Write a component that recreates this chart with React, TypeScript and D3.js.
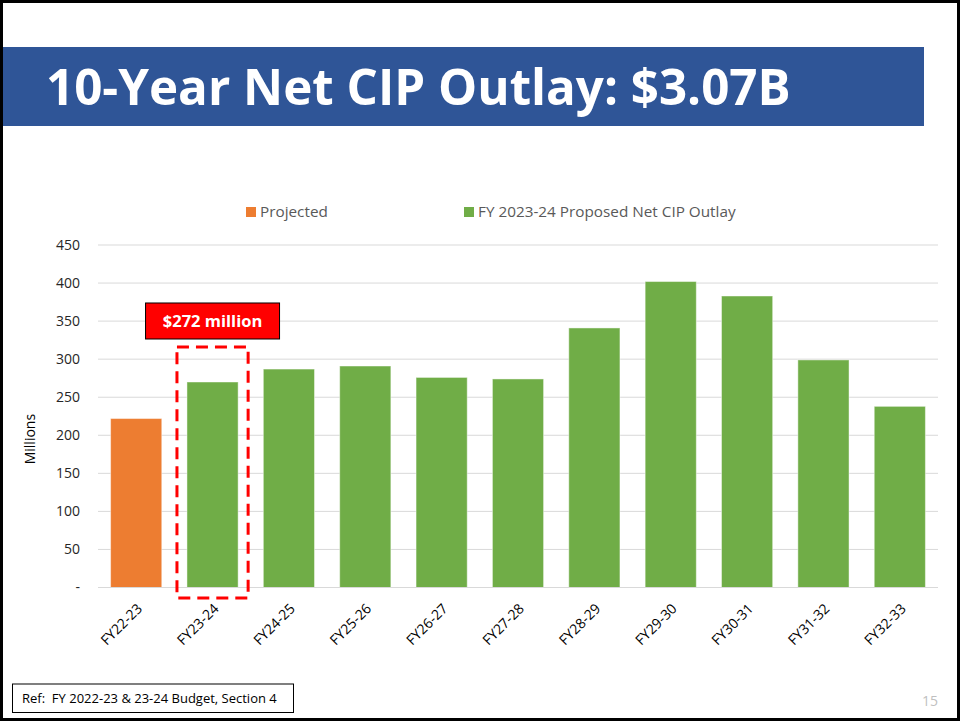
import React, {useEffect, useRef} from 'react';
import * as d3 from 'd3';

const years = ['FY22-23', 'FY23-24', 'FY24-25', 'FY25-26', 'FY26-27', 'FY27-28', 'FY28-29', 'FY29-30', 'FY30-31', 'FY31-32', 'FY32-33'];
const outlay = [222, 270, 287, 291, 276, 274, 341, 402, 383, 299, 238];
const seriesOf = ['Projected', 'Proposed', 'Proposed', 'Proposed', 'Proposed', 'Proposed', 'Proposed', 'Proposed', 'Proposed', 'Proposed', 'Proposed'];
const legendLabels = ['Projected', 'FY 2023-24 Proposed Net CIP Outlay'];
const yTicks = [0, 50, 100, 150, 200, 250, 300, 350, 400, 450];

const FONT = "'Open Sans', sans-serif";

export default function App() {
    const svgRef = useRef<SVGSVGElement>(null);

    useEffect(() => {
        const width = 960;
        const height = 723;
        const margin = {top: 245, right: 22, bottom: 135.5, left: 98};

        const svg = d3.select(svgRef.current)
            .attr('width', width)
            .attr('height', height);

        svg.selectAll('*').remove();

        svg.append('rect')
            .attr('width', width).attr('height', height)
            .attr('fill', 'white');

        // title banner
        svg.append('rect')
            .attr('x', 3).attr('y', 47)
            .attr('width', 921).attr('height', 79)
            .attr('fill', '#2F5597');
        svg.append('text')
            .attr('x', 46).attr('y', 105)
            .attr('fill', 'white')
            .attr('font-family', FONT)
            .attr('font-weight', 700)
            .attr('font-size', 49.3)
            .text('10-Year Net CIP Outlay: $3.07B');

        const colors = d3.scaleOrdinal<string, string>()
            .domain(['Projected', 'Proposed'])
            .range(['#ED7D31', '#70AD47']);

        const xScale = d3.scaleBand()
            .domain(years)
            .range([margin.left, width - margin.right])
            .paddingInner(0.33)
            .paddingOuter(0.165);

        const yScale = d3.scaleLinear()
            .domain([0, 450])
            .range([height - margin.bottom, margin.top]);

        // gridlines
        svg.append('g')
            .selectAll('line')
            .data(yTicks)
            .enter()
            .append('line')
            .attr('x1', margin.left)
            .attr('x2', width - margin.right)
            .attr('y1', d => yScale(d))
            .attr('y2', d => yScale(d))
            .attr('stroke', '#d9d9d9')
            .attr('stroke-width', 1);

        const yAxis = d3.axisLeft(yScale)
            .tickValues(yTicks)
            .tickSize(0)
            .tickPadding(18)
            .tickFormat(d => (+d === 0 ? '-' : String(d)));

        const yG = svg.append('g')
            .attr('transform', `translate(${margin.left}, 0)`)
            .call(yAxis);
        yG.select('.domain').remove();
        yG.selectAll('text')
            .attr('font-family', FONT)
            .attr('font-size', 14)
            .attr('fill', '#262626');

        svg.append('text')
            .attr('transform', `translate(35, ${yScale(195)}) rotate(-90)`)
            .attr('text-anchor', 'middle')
            .attr('font-family', FONT)
            .attr('font-size', 14)
            .attr('fill', '#000')
            .text('Millions');

        // bars
        svg.append('g')
            .selectAll('rect')
            .data(years)
            .enter()
            .append('rect')
            .attr('x', d => xScale(d)!)
            .attr('y', (d, i) => yScale(outlay[i]))
            .attr('width', xScale.bandwidth())
            .attr('height', (d, i) => yScale(0) - yScale(outlay[i]))
            .attr('fill', (d, i) => colors(seriesOf[i]))
            .attr('stroke', 'rgba(255,255,255,0.45)')
            .attr('stroke-width', 1);

        // x axis line
        svg.append('line')
            .attr('x1', margin.left)
            .attr('x2', width - margin.right)
            .attr('y1', yScale(0))
            .attr('y2', yScale(0))
            .attr('stroke', '#d9d9d9');

        // rotated category labels
        svg.append('g')
            .selectAll('text')
            .data(years)
            .enter()
            .append('text')
            .attr('transform', d => `translate(${xScale(d)! + xScale.bandwidth() / 2 + 7}, ${yScale(0) + 22}) rotate(-45)`)
            .attr('text-anchor', 'end')
            .attr('font-family', FONT)
            .attr('font-size', 14)
            .attr('fill', '#000')
            .text(d => d);

        // highlight for FY23-24
        const hx = xScale('FY23-24')!;
        const bw = xScale.bandwidth();
        const boxTop = yScale(316);
        svg.append('rect')
            .attr('x', hx - 10)
            .attr('y', boxTop)
            .attr('width', bw + 20)
            .attr('height', yScale(0) + 10.5 - boxTop)
            .attr('fill', 'none')
            .attr('stroke', '#FF0000')
            .attr('stroke-width', 3)
            .attr('stroke-dasharray', '12,7');

        const labelW = 134;
        const labelH = 36;
        svg.append('rect')
            .attr('x', hx + bw / 2 - labelW / 2)
            .attr('y', boxTop - 8 - labelH)
            .attr('width', labelW)
            .attr('height', labelH)
            .attr('fill', '#FF0000')
            .attr('stroke', '#000')
            .attr('stroke-width', 1);
        svg.append('text')
            .attr('x', hx + bw / 2)
            .attr('y', boxTop - 8 - labelH / 2)
            .attr('dy', '0.35em')
            .attr('text-anchor', 'middle')
            .attr('font-family', FONT)
            .attr('font-weight', 700)
            .attr('font-size', 16.5)
            .attr('fill', 'white')
            .text('$272 million');

        // legend
        const legendX = [246, 464];
        const legend = svg.append('g')
            .selectAll('g')
            .data(legendLabels)
            .enter()
            .append('g')
            .attr('transform', (d, i) => `translate(${legendX[i]}, 207)`);
        legend.append('rect')
            .attr('width', 10)
            .attr('height', 10)
            .attr('fill', (d, i) => colors.range()[i]);
        legend.append('text')
            .attr('x', 14)
            .attr('y', 5)
            .attr('dy', '0.35em')
            .attr('font-family', FONT)
            .attr('font-size', 15.3)
            .attr('fill', '#595959')
            .text(d => d);

        // footer
        svg.append('rect')
            .attr('x', 12.5).attr('y', 684)
            .attr('width', 281).attr('height', 28.5)
            .attr('fill', 'white')
            .attr('stroke', '#000')
            .attr('stroke-width', 1);
        svg.append('text')
            .attr('x', 22).attr('y', 703)
            .attr('font-family', FONT)
            .attr('font-size', 13)
            .attr('fill', '#000')
            .attr('xml:space', 'preserve')
            .text('Ref:  FY 2022-23 & 23-24 Budget, Section 4');

        svg.append('text')
            .attr('x', 938).attr('y', 706)
            .attr('text-anchor', 'end')
            .attr('font-family', FONT)
            .attr('font-size', 14)
            .attr('fill', '#bfbfbf')
            .text('15');

        // slide frame
        svg.append('rect')
            .attr('x', 1.5).attr('y', 1.5)
            .attr('width', width - 3).attr('height', height - 5)
            .attr('fill', 'none')
            .attr('stroke', '#000')
            .attr('stroke-width', 3);
    }, []);

    return (
        <div style={{position: 'absolute', left: 0, top: 0}}>
            <svg ref={svgRef}/>
        </div>
    );
}
